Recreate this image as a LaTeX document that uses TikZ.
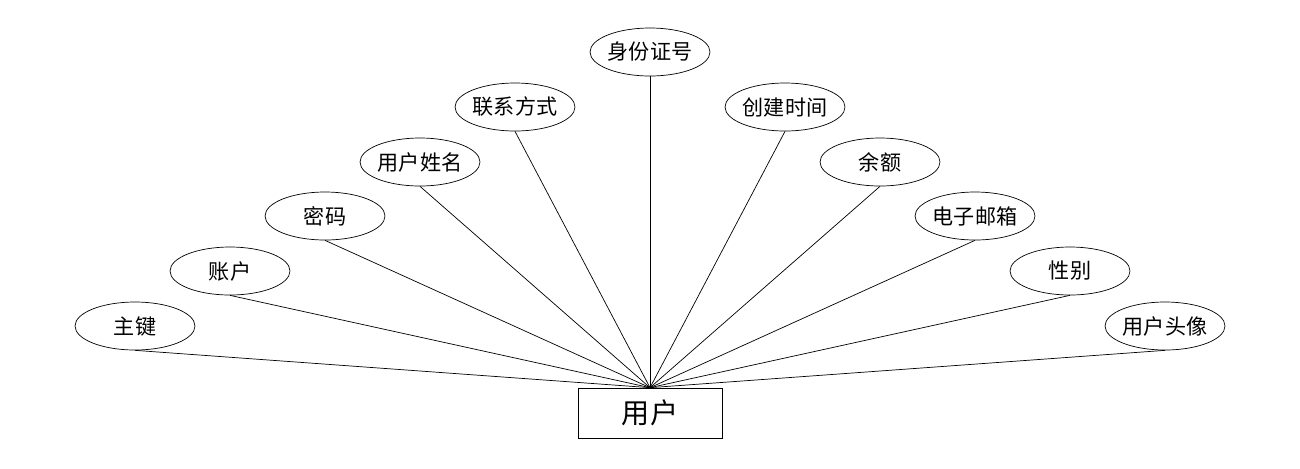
\documentclass[tikz,border=0pt]{standalone}
\usepackage{fontspec}
\setmainfont{Noto Sans CJK SC}
\usetikzlibrary{shapes.geometric}
\begin{document}
\begin{tikzpicture}[x=0.02cm,y=-0.02cm]
	\useasboundingbox (0,0) rectangle (1300,468);
	\begin{scope}[every node/.style={ellipse,draw,minimum width=2.4cm,minimum height=0.96cm,inner sep=0pt,font=\fontsize{12}{14}\selectfont}]
		\node (key) at (135,326) {主键};
		\node (acct) at (230,271) {账户};
		\node (pwd) at (325,216) {密码};
		\node (uname) at (420,162) {用户姓名};
		\node (phone) at (515,107) {联系方式};
		\node (idno) at (650,52) {身份证号};
		\node (ctime) at (785,107) {创建时间};
		\node (bal) at (880,162) {余额};
		\node (mail) at (975,216) {电子邮箱};
		\node (sex) at (1070,271) {性别};
		\node (avatar) at (1165,326) {用户头像};
	\end{scope}
	\node[rectangle,draw,minimum width=2.88cm,minimum height=1cm,font=\fontsize{16}{18}\selectfont] (user) at (650,413) {用户};

	\begin{scope}
	\foreach \a in {key,acct,pwd,uname,phone,idno,ctime,bal,mail,sex,avatar}
		\draw (\a.south) -- (user.north);
	\end{scope}
\end{tikzpicture}
\end{document}
